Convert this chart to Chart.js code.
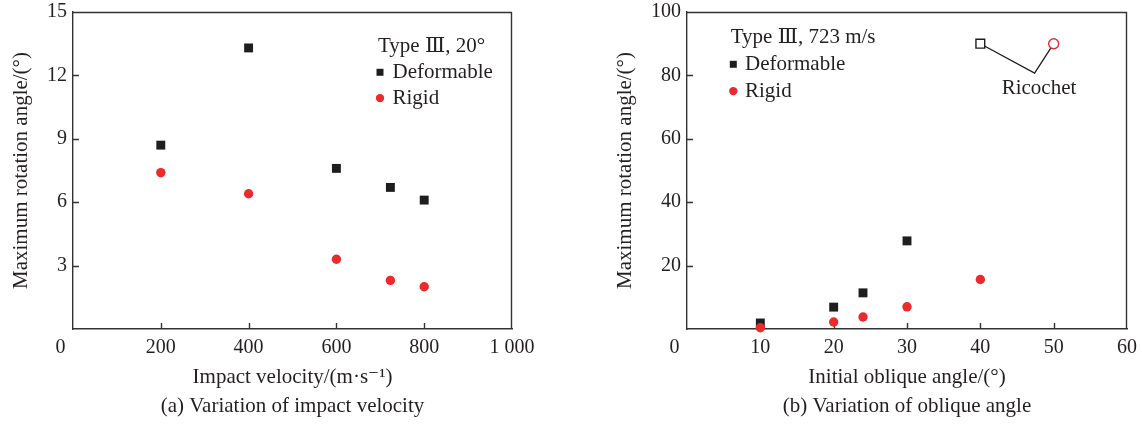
<!DOCTYPE html>
<html><head><meta charset="utf-8">
<script src="https://cdn.jsdelivr.net/npm/chart.js@4"></script>
<style>
html,body{margin:0;padding:0;background:#fff;}
#wrap{position:relative;width:1142px;height:428px;overflow:hidden;}
canvas{position:absolute;top:0;}
#c1{left:0}
#c2{left:571px}
</style></head><body>
<div id="wrap"><canvas id="c1" width="571" height="428"></canvas><canvas id="c2" width="571" height="428"></canvas></div>
<script>
// ---------- (a) Variation of impact velocity ----------
const velocities = [200, 400, 600, 723, 800];
const deformableA = [8.7, 13.3, 7.6, 6.7, 6.1];
const rigidA = [7.4, 6.4, 3.3, 2.3, 2.0];
const xTicksA = [0, 200, 400, 600, 800, 1000];
const xTickLabelsA = ['0', '200', '400', '600', '800', '1 000'];
const yTicksA = [0, 3, 6, 9, 12, 15];
const yTickLabelsA = ['', '3', '6', '9', '12', '15'];

// ---------- (b) Variation of oblique angle ----------
const obliqueDef = [10, 20, 24, 30];
const deformableB = [1.9, 6.9, 11.4, 27.8];
const obliqueRigid = [10, 20, 24, 30, 40];
const rigidB = [0.4, 2.2, 3.8, 7.0, 15.6];
const ricochetDefX = [40], ricochetDefY = [90];
const ricochetRigidX = [50], ricochetRigidY = [90];
const ricochetLeaderX = [40, 47.4, 50];
const ricochetLeaderY = [90, 80.7, 90];
const ricochetText = 'Ricochet';
const ricochetTextAt = [48, 76];
const xTicksB = [0, 10, 20, 30, 40, 50, 60];
const xTickLabelsB = ['0', '10', '20', '30', '40', '50', '60'];
const yTicksB = [0, 20, 40, 60, 80, 100];
const yTickLabelsB = ['', '20', '40', '60', '80', '100'];

const TEXT = '#231f20';
const AXIS = '#333333';
const RED = '#ec2a2c';
const BLACK = '#1e1e1e';
const FAMILY = "'Liberation Serif', 'DejaVu Serif', 'Times New Roman', serif";

Chart.defaults.font.family = FAMILY;
Chart.defaults.font.size = 21;
Chart.defaults.color = TEXT;
Chart.defaults.animation = false;

const zip = (xs, ys) => xs.map((x, i) => ({x, y: ys[i]}));

const framePlugin = {
  id: 'frame',
  beforeDatasetsDraw(chart) {
    const {ctx, chartArea: a} = chart;
    ctx.save();
    ctx.strokeStyle = AXIS;
    ctx.lineWidth = 1.4;
    ctx.beginPath();
    ctx.moveTo(a.left, a.top + 0.5);
    ctx.lineTo(a.right - 0.5, a.top + 0.5);
    ctx.lineTo(a.right - 0.5, a.bottom);
    ctx.stroke();
    // inward tick marks at the scales' ticks
    ctx.beginPath();
    const xs = chart.scales.x, ys = chart.scales.y;
    xs.ticks.forEach(t => {
      if (t.value <= xs.min || t.value >= xs.max) return;
      const px = Math.round(xs.getPixelForValue(t.value)) + 0.5;
      ctx.moveTo(px, a.bottom);
      ctx.lineTo(px, a.bottom - 6);
    });
    ys.ticks.forEach(t => {
      if (t.value <= ys.min || t.value >= ys.max) return;
      const py = Math.round(ys.getPixelForValue(t.value)) + 0.5;
      ctx.moveTo(a.left, py);
      ctx.lineTo(a.left + 6, py);
    });
    ctx.stroke();
    ctx.restore();
  }
};

const legendPlugin = {
  id: 'customLegend',
  afterDatasetsDraw(chart, args, opts) {
    if (!opts || !opts.title) return;
    const {ctx, chartArea: a} = chart;
    ctx.save();
    ctx.fillStyle = TEXT;
    ctx.font = '21px ' + FAMILY;
    ctx.textBaseline = 'middle';
    ctx.textAlign = 'left';
    const x0 = a.left + opts.dx, y0 = a.top + opts.dy;
    ctx.fillText(opts.title, x0, y0);
    const items = chart.data.datasets.filter(d => d.legendRow).sort((p, q) => p.legendRow - q.legendRow);
    items.forEach((d, i) => {
      const y = y0 + opts.rowGap * (i + 1);
      const mx = x0 + opts.markerDx;
      ctx.fillStyle = d.backgroundColor;
      ctx.beginPath();
      if (d.pointStyle === 'rect') {
        ctx.rect(mx - 3.5, y - 3.5, 7, 7);
      } else {
        ctx.arc(mx, y, 4.2, 0, Math.PI * 2);
      }
      ctx.fill();
      ctx.fillStyle = TEXT;
      ctx.fillText(d.label, x0 + opts.textDx, y);
    });
    if (opts.note) {
      const xs = chart.scales.x, ys = chart.scales.y;
      ctx.textAlign = 'center';
      ctx.fillText(opts.note.text, xs.getPixelForValue(opts.note.at[0]), ys.getPixelForValue(opts.note.at[1]));
    }
    ctx.restore();
  }
};

function zeroPad(s) { s.paddingTop = 0; s.paddingBottom = 0; s.paddingLeft = 0; s.paddingRight = 0; }

function scales(o) {
  return {
    x: {
      type: 'linear', min: o.xTicks[0], max: o.xTicks[o.xTicks.length - 1],
      afterBuildTicks: s => { s.ticks = o.xTicks.map(v => ({value: v})); },
      afterFit: s => { s.height = 99; zeroPad(s); },
      border: {display: true, color: AXIS, width: 1.4},
      grid: {display: false, drawOnChartArea: false, drawTicks: false},
      ticks: {
        autoSkip: false, maxRotation: 0, padding: 7, color: TEXT, font: {size: 20},
        callback: v => { const i = o.xTicks.indexOf(v); const t = i >= 0 ? o.xLabels[i] : ''; return v === 0 ? t + '     ' : t; }
      },
      title: {display: true, text: o.xTitle, color: TEXT, font: {size: 21, lineHeight: 1.37}, padding: {top: 0, bottom: 7}}
    },
    y: {
      type: 'linear', min: o.yTicks[0], max: o.yTicks[o.yTicks.length - 1],
      afterBuildTicks: s => { s.ticks = o.yTicks.map(v => ({value: v})); },
      afterFit: s => { s.width = o.yWidth; zeroPad(s); },
      border: {display: true, color: AXIS, width: 1.4},
      grid: {display: false, drawOnChartArea: false, drawTicks: false},
      ticks: {
        autoSkip: false, padding: 6, color: TEXT, font: {size: 20},
        callback: v => { const i = o.yTicks.indexOf(v); return i >= 0 ? o.yLabels[i] : ''; }
      },
      title: {display: true, text: 'Maximum rotation angle/(°)', color: TEXT, font: {size: 21}, padding: {top: 9, bottom: 0}}
    }
  };
}

new Chart(document.getElementById('c1'), {
  type: 'scatter',
  data: {
    datasets: [
      {label: 'Rigid', legendRow: 2, data: zip(velocities, rigidA), pointStyle: 'circle', pointRadius: 4.7, pointBorderWidth: 0, backgroundColor: RED, borderColor: RED, order: 1},
      {label: 'Deformable', legendRow: 1, data: zip(velocities, deformableA), pointStyle: 'rect', pointRadius: 6.3, pointBorderWidth: 0, backgroundColor: BLACK, borderColor: BLACK, order: 2}
    ]
  },
  options: {
    responsive: false, devicePixelRatio: 1, clip: false,
    layout: {padding: {left: 0, right: 59, top: 12, bottom: 0}},
    scales: scales({xTicks: xTicksA, xLabels: xTickLabelsA, yTicks: yTicksA, yLabels: yTickLabelsA, yWidth: 73,
      xTitle: ['Impact velocity/(m·s⁻¹)', '(a) Variation of impact velocity']}),
    plugins: {
      legend: {display: false}, tooltip: {enabled: false},
      customLegend: {title: 'Type Ⅲ, 20°', dx: 305, dy: 34.5, rowGap: 25.8, markerDx: 2, textDx: 14.5}
    }
  },
  plugins: [framePlugin, legendPlugin]
});

new Chart(document.getElementById('c2'), {
  type: 'scatter',
  data: {
    datasets: [
      {label: 'Ricochet (rigid)', data: zip(ricochetRigidX, ricochetRigidY), pointStyle: 'circle', pointRadius: 5, pointBorderWidth: 1.4, backgroundColor: '#ffffff', borderColor: RED, order: 0},
      {label: 'Ricochet (deformable)', data: zip(ricochetDefX, ricochetDefY), pointStyle: 'rect', pointRadius: 6.2, pointBorderWidth: 1.4, backgroundColor: '#ffffff', borderColor: BLACK, order: 0},
      {label: 'Rigid', legendRow: 2, data: zip(obliqueRigid, rigidB), pointStyle: 'circle', pointRadius: 4.7, pointBorderWidth: 0, backgroundColor: RED, borderColor: RED, order: 1},
      {label: 'Deformable', legendRow: 1, data: zip(obliqueDef, deformableB), pointStyle: 'rect', pointRadius: 6.3, pointBorderWidth: 0, backgroundColor: BLACK, borderColor: BLACK, order: 2},
      {type: 'line', label: 'leader', data: zip(ricochetLeaderX, ricochetLeaderY), showLine: true, pointRadius: 0, borderColor: BLACK, borderWidth: 1.3, fill: false, tension: 0, order: 5}
    ]
  },
  options: {
    responsive: false, devicePixelRatio: 1, clip: false,
    layout: {padding: {left: 33, right: 15, top: 12, bottom: 0}},
    scales: scales({xTicks: xTicksB, xLabels: xTickLabelsB, yTicks: yTicksB, yLabels: yTickLabelsB, yWidth: 83,
      xTitle: ['Initial oblique angle/(°)', '(b) Variation of oblique angle']}),
    plugins: {
      legend: {display: false}, tooltip: {enabled: false},
      customLegend: {title: 'Type Ⅲ, 723 m/s', dx: 43.7, dy: 25.5, rowGap: 26.8, markerDx: 2.6, textDx: 14.3,
        note: {text: ricochetText, at: ricochetTextAt}}
    }
  },
  plugins: [framePlugin, legendPlugin]
});
</script>
</body></html>
